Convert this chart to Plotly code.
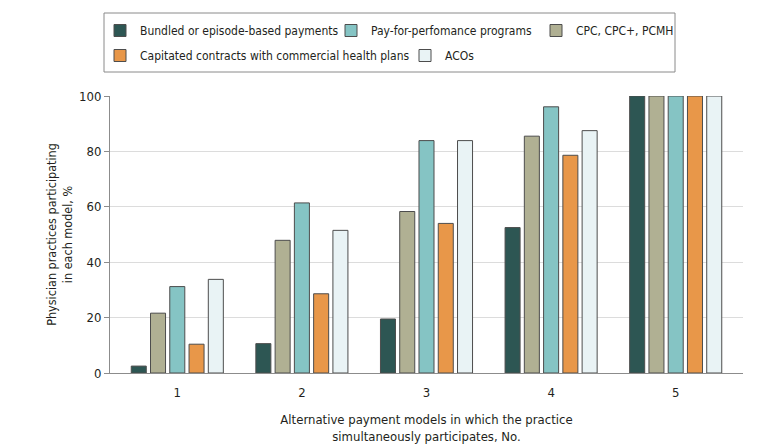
import plotly.graph_objects as go

categories = ["1", "2", "3", "4", "5"]

series_names = [
    "Bundled or episode-based payments",
    "CPC, CPC+, PCMH",
    "Pay-for-perfomance programs",
    "Capitated contracts with commercial health plans",
    "ACOs",
]
bundled = [2.5, 10.6, 19.5, 52.5, 100]
cpc = [21.6, 47.9, 58.3, 85.5, 100]
pay_for_perf = [31.2, 61.4, 83.9, 96.1, 100]
capitated = [10.4, 28.6, 54.0, 78.6, 100]
acos = [33.8, 51.5, 83.9, 87.5, 100]

values = [bundled, cpc, pay_for_perf, capitated, acos]
colors = ["#2d5653", "#b0b093", "#85c4c4", "#e89749", "#e9f3f5"]

FONT = "DejaVu Sans Condensed, Roboto Condensed, Roboto, sans-serif"
TXT = "#231f20"

# page offset of the figure inside the html body
OFF = 8
W, H = 780, 445
# target plot area in page pixels: x 110..743, y 96..373
L, T = 110 - OFF, 96 - OFF
pw, ph = 633, 277
R, B = W - L - pw, H - T - ph
def px(x):
    return (x - OFF - L) / pw
def py(y):
    return (T + ph - (y - OFF)) / ph

# one legend per entry, positioned by the page-pixel centre of its swatch
legend_ids = ["legend", "legend3", "legend2", "legend4", "legend5"]
legend_pos = {
    "legend": (120, 30.5),
    "legend2": (351, 30.5),
    "legend3": (556, 30.5),
    "legend4": (120, 55.5),
    "legend5": (425, 55.5),
}

fig = go.Figure()
for name, vals, col, lg in zip(series_names, values, colors, legend_ids):
    fig.add_trace(go.Bar(
        x=categories, y=vals, name=name,
        marker=dict(color=col, line=dict(color="#4d4d4d", width=1)),
        legend=lg, cliponaxis=False,
    ))

layout_legends = {}
for lg, (cx, cy) in legend_pos.items():
    layout_legends[lg] = dict(
        xref="container", yref="container",
        x=(cx - OFF - 20) / W, y=1 - (cy - OFF) / H,
        xanchor="left", yanchor="middle",
        orientation="h", bgcolor="rgba(0,0,0,0)", borderwidth=0,
        font=dict(family=FONT, size=12, color=TXT),
    )

fig.update_layout(
    width=W, height=H,
    margin=dict(l=L, r=R, t=T, b=B, autoexpand=False),
    paper_bgcolor="white", plot_bgcolor="white",
    barmode="group", bargap=0.227, bargroupgap=0.22,
    font=dict(family=FONT, size=13, color=TXT),
    showlegend=True,
    **layout_legends,
    shapes=[dict(
        type="rect", xref="paper", yref="paper",
        x0=px(104), x1=px(675), y0=py(72), y1=py(13),
        line=dict(color="#8a8a8a", width=1), fillcolor="rgba(0,0,0,0)",
        layer="below",
    )],
)

fig.update_xaxes(
    type="category", range=[-0.54, 4.54],
    showline=True, linecolor="#8c8c8c", linewidth=1,
    ticks="", showgrid=False, ticklabelstandoff=7,
    tickfont=dict(family=FONT, size=13, color=TXT),
    title=dict(
        text="Alternative payment models in which the practice<br>simultaneously participates, No.",
        font=dict(family=FONT, size=13, color=TXT), standoff=16,
    ),
)
fig.update_yaxes(
    range=[0, 100], tickvals=[0, 20, 40, 60, 80, 100],
    showline=True, linecolor="#8c8c8c", linewidth=1,
    ticks="outside", ticklen=5, tickcolor="#8c8c8c",
    showgrid=True, gridcolor="#dcdcdc", gridwidth=1, zeroline=False,
    tickfont=dict(family=FONT, size=13, color=TXT),
    title=dict(
        text="Physician practices participating<br>in each model, %",
        font=dict(family=FONT, size=12.5, color=TXT), standoff=3,
    ),
)

fig.write_html("out.html")
